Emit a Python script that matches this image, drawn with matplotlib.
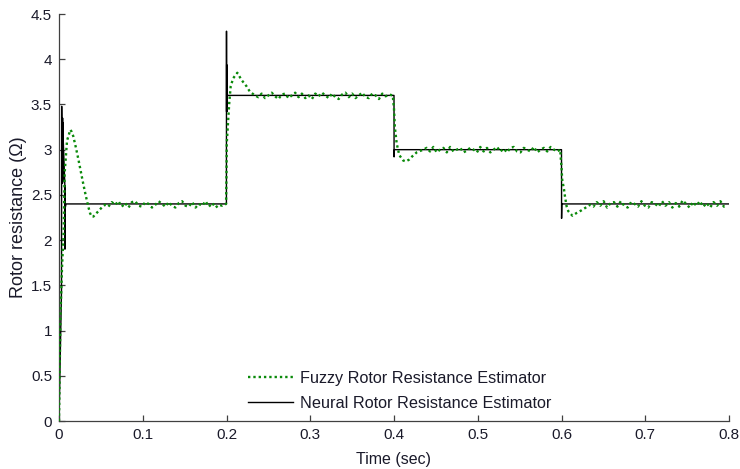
import numpy as np
import matplotlib
matplotlib.use("Agg")
import matplotlib.pyplot as plt

plt.rcParams['font.family'] = ['Liberation Sans', 'DejaVu Sans']

# ---- Fuzzy rotor resistance estimate (ohm) ----
# start-up transient
fz_t_start = [0.0, 0.0005, 0.0016, 0.0036, 0.0056, 0.0068, 0.0096, 0.0135, 0.015,
              0.017, 0.020, 0.023, 0.026, 0.029, 0.032, 0.035, 0.037, 0.039, 0.041,
              0.043, 0.046, 0.049, 0.052, 0.055]
fz_v_start = [0.0, 0.30, 1.10, 1.70, 2.10, 2.75, 3.10, 3.22, 3.20,
              3.15, 3.03, 2.90, 2.76, 2.62, 2.49, 2.37, 2.30, 2.26, 2.26,
              2.28, 2.31, 2.34, 2.37, 2.39]
# steady state around 2.4
fz_v_24a = [2.37, 2.42, 2.39, 2.43, 2.37, 2.41, 2.36, 2.42, 2.43, 2.38,
            2.37, 2.42, 2.40, 2.36, 2.39, 2.43, 2.40, 2.37, 2.42, 2.38,
            2.36, 2.41, 2.43, 2.38, 2.37, 2.42, 2.36, 2.40, 2.38, 2.43,
            2.37, 2.41, 2.36, 2.39, 2.38]
# step to 3.6 at t = 0.2
fz_t_step1 = [0.1995, 0.2000, 0.2003, 0.2020, 0.2033, 0.2050, 0.2080, 0.2129,
              0.2180, 0.2240, 0.2280, 0.2340]
fz_v_step1 = [2.40, 2.74, 3.07, 3.33, 3.52, 3.70, 3.79, 3.85,
              3.77, 3.70, 3.64, 3.60]
fz_v_36 = [3.58, 3.62, 3.57, 3.60, 3.63, 3.59, 3.56, 3.61, 3.62, 3.57,
           3.60, 3.63, 3.58, 3.62, 3.57, 3.60, 3.56, 3.62, 3.59, 3.63,
           3.60, 3.57, 3.62, 3.58, 3.56, 3.61, 3.63, 3.58, 3.62, 3.57,
           3.60, 3.63, 3.58, 3.57, 3.62, 3.60, 3.56, 3.62, 3.59, 3.61]
# step to 3.0 at t = 0.4
fz_t_step2 = [0.3985, 0.4000, 0.4010, 0.4032, 0.4063, 0.4110, 0.4143, 0.4180,
              0.4211, 0.4271, 0.4350]
fz_v_step2 = [3.60, 3.45, 3.25, 3.07, 2.94, 2.88, 2.87, 2.89,
              2.92, 2.97, 3.00]
fz_v_30 = [3.02, 2.98, 3.03, 2.97, 3.00, 3.02, 2.97, 3.03, 2.98, 3.00,
           3.02, 2.97, 2.99, 3.02, 3.00, 2.97, 3.03, 2.98, 3.02, 2.97,
           3.00, 3.03, 2.98, 3.01, 2.97, 3.02, 3.03, 2.98, 2.97, 3.02,
           3.00, 2.98, 3.03, 2.97, 3.00, 3.02, 2.98, 3.03, 3.00, 2.98]
# step to 2.4 at t = 0.6
fz_t_step3 = [0.5985, 0.5990, 0.6000, 0.6008, 0.6030, 0.6042, 0.6062, 0.6081,
              0.6130, 0.6180, 0.6240, 0.6340]
fz_v_step3 = [3.00, 2.92, 2.81, 2.67, 2.56, 2.48, 2.37, 2.32,
              2.27, 2.30, 2.33, 2.39]
fz_v_24b = [2.37, 2.42, 2.38, 2.43, 2.36, 2.41, 2.42, 2.37, 2.43, 2.38,
            2.36, 2.42, 2.40, 2.37, 2.43, 2.38, 2.36, 2.42, 2.40, 2.37,
            2.43, 2.38, 2.42, 2.36, 2.41, 2.37, 2.44, 2.40, 2.36, 2.42,
            2.38, 2.43, 2.37, 2.41, 2.36, 2.42, 2.38, 2.43, 2.37, 2.38]

# ---- Neural rotor resistance estimate (ohm) ----
nn_t = [0.0, 0.0030, 0.0032, 0.0042, 0.0043, 0.0044, 0.0045, 0.0046, 0.0047,
        0.0070, 0.0071, 0.0072, 0.0073, 0.0074, 0.0075, 0.0084,
        0.1999, 0.2000, 0.2001, 0.2002, 0.2003, 0.2004, 0.2005, 0.2008,
        0.4000, 0.4001, 0.4004,
        0.6000, 0.6001, 0.6004,
        0.8000]
nn_v = [0.0, 1.45, 3.48, 2.63, 3.35, 2.65, 3.30, 2.70, 3.20,
        2.60, 1.90, 2.60, 2.35, 2.60, 2.36, 2.40,
        2.40, 4.31, 3.42, 3.94, 3.42, 3.90, 3.45, 3.60,
        3.60, 2.92, 3.00,
        3.00, 2.24, 2.40,
        2.40]

# sample instants for the steady-state stretches (4 ms step)
fz_t = np.concatenate([
    fz_t_start,
    np.linspace(0.059, 0.195, len(fz_v_24a)),
    fz_t_step1,
    np.linspace(0.238, 0.394, len(fz_v_36)),
    fz_t_step2,
    np.linspace(0.439, 0.595, len(fz_v_30)),
    fz_t_step3,
    np.linspace(0.638, 0.798, len(fz_v_24b)),
])
fz_v = np.concatenate([fz_v_start, fz_v_24a, fz_v_step1, fz_v_36,
                       fz_v_step2, fz_v_30, fz_v_step3, fz_v_24b])

x_ticks = [0, 0.1, 0.2, 0.3, 0.4, 0.5, 0.6, 0.7, 0.8]
y_ticks = [0, 0.5, 1, 1.5, 2, 2.5, 3, 3.5, 4, 4.5]

fig = plt.figure(figsize=(7.40, 4.69), dpi=100)
ax = fig.add_axes([59 / 740, 1 - 421 / 469, 670 / 740, 407 / 469])

ax.plot(nn_t, nn_v, color='black', lw=1.0, zorder=2,
        label='Neural Rotor Resistance Estimator')
ax.plot(fz_t, fz_v, color='#0a8a0a', lw=1.7, linestyle=(0, (1, 1.25)), zorder=3,
        label='Fuzzy Rotor Resistance Estimator')

ax.set_xlim(0, 0.8)
ax.set_ylim(0, 4.5)
ax.set_xticks(x_ticks)
ax.set_xticklabels(['0', '0.1', '0.2', '0.3', '0.4', '0.5', '0.6', '0.7', '0.8'])
ax.set_yticks(y_ticks)
ax.set_yticklabels(['0', '0.5', '1', '1.5', '2', '2.5', '3', '3.5', '4', '4.5'])

for side in ('top', 'right'):
    ax.spines[side].set_visible(False)
for side in ('left', 'bottom'):
    ax.spines[side].set_color('#404040')
    ax.spines[side].set_linewidth(0.9)
ax.tick_params(direction='in', length=4.5, width=0.9, color='#404040',
               labelsize=11, labelcolor='#1a1a2a', pad=5)

ax.set_xlabel('Time (sec)', fontsize=11.5, labelpad=7, color='#1a1a2a')
ax.set_ylabel('Rotor resistance (\u03A9)', fontsize=13, labelpad=3, color='#1a1a2a')

handles, labels = ax.get_legend_handles_labels()
leg = fig.legend(handles[::-1], labels[::-1], loc='upper left',
                 bbox_to_anchor=(248 / 740, 1 - 371 / 469),
                 frameon=False, fontsize=11.7, handlelength=2.75,
                 handletextpad=0.45, labelspacing=0.62,
                 borderpad=0, borderaxespad=0)
for t in leg.get_texts():
    t.set_color('#1a1a2a')

fig.savefig('out.png', dpi=100)
